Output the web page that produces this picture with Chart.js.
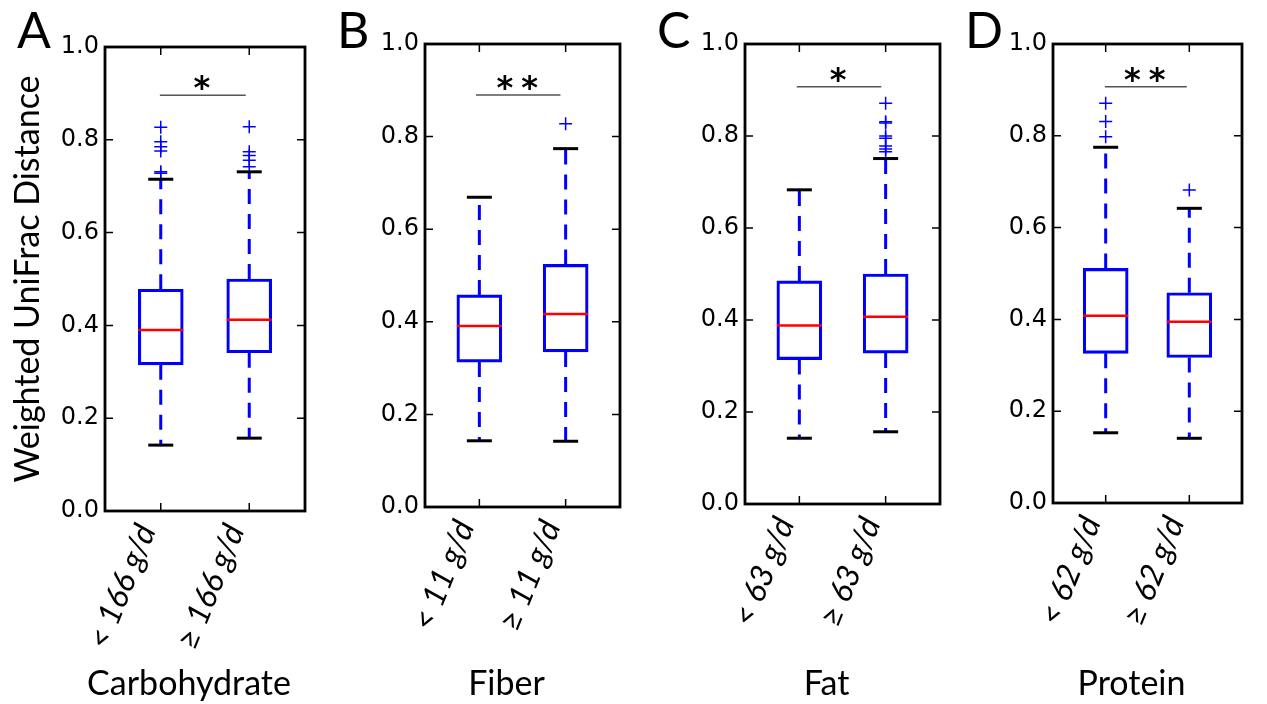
<!DOCTYPE html>
<html>
<head>
<meta charset="utf-8">
<script src="https://cdn.jsdelivr.net/npm/chart.js@4.4.1/dist/chart.umd.min.js"></script>
<style>
  html, body { margin: 0; padding: 0; background: #fff; }
  #wrap { position: relative; width: 1267px; height: 704px; overflow: hidden; background: #fff; }
  canvas { position: absolute; top: 0; }
</style>
</head>
<body>
<div id="wrap">
  <canvas id="p0" width="330" height="704" style="left:0px"></canvas>
  <canvas id="p1" width="310" height="704" style="left:335px"></canvas>
  <canvas id="p2" width="310" height="704" style="left:655px"></canvas>
  <canvas id="p3" width="304" height="704" style="left:963px"></canvas>
</div>
<script>
// the data
const panelLetters = ["A", "B", "C", "D"];
const nutrients = ["Carbohydrate", "Fiber", "Fat", "Protein"];
const groupLabels = [
  ["< 166 g/d", "\u2265 166 g/d"],
  ["< 11 g/d", "\u2265 11 g/d"],
  ["< 63 g/d", "\u2265 63 g/d"],
  ["< 62 g/d", "\u2265 62 g/d"]
];
const positions = [1, 2];
const whiskerLow = [[0.142, 0.157], [0.143, 0.142], [0.143, 0.157], [0.153, 0.141]];
const q1 = [[0.315, 0.341], [0.313, 0.335], [0.314, 0.328], [0.326, 0.317]];
const medians = [[0.390, 0.412], [0.391, 0.417], [0.388, 0.407], [0.408, 0.395]];
const q3 = [[0.478, 0.500], [0.458, 0.524], [0.485, 0.500], [0.511, 0.458]];
const whiskerHigh = [[0.715, 0.731], [0.669, 0.774], [0.683, 0.751], [0.775, 0.642]];
const outliers = [
  [[0.827, 0.796, 0.785, 0.776, 0.731, 0.728], [0.828, 0.774, 0.766, 0.756, 0.742]],
  [[], [0.828]],
  [[], [0.871, 0.831, 0.828, 0.800, 0.795, 0.778, 0.772, 0.766]],
  [[0.871, 0.831, 0.798], [0.682]]
];
const stars = ["*", "**", "*", "**"];
const sigLineY = [0.896, 0.890, 0.907, 0.907];
const sigStart = [0.99, 0.96, 0.97, 0.99];
const sigEnd = [1.96, 1.94, 1.95, 1.97];
const starY = [0.929, 0.922, 0.940, 0.940];
const yTicks = [0, 0.2, 0.4, 0.6, 0.8, 1.0];

// where each plot frame sits on the page (px)
const frames = [
  { canvasLeft: 0, width: 330, left: 105, right: 306, top: 47, bottom: 511 },
  { canvasLeft: 335, width: 310, left: 425, right: 626, top: 44, bottom: 507 },
  { canvasLeft: 655, width: 310, left: 745, right: 946, top: 44, bottom: 504 },
  { canvasLeft: 963, width: 304, left: 1053, right: 1255, top: 44, bottom: 503 }
];

const BLUE = "#0000ff";

// frame, inward ticks, stars, panel letter and nutrient name
const decor = {
  id: "decor",
  afterDraw(chart, args, opts) {
    const p = opts.panel;
    const { ctx, chartArea: a, scales: { x, y } } = chart;
    ctx.save();
    ctx.strokeStyle = "#000";
    ctx.lineWidth = 1.5;
    ctx.beginPath();
    yTicks.forEach(v => {
      const py = y.getPixelForValue(v);
      ctx.moveTo(a.left, py); ctx.lineTo(a.left + 8, py);
      ctx.moveTo(a.right, py); ctx.lineTo(a.right - 8, py);
    });
    positions.forEach(v => {
      const px = x.getPixelForValue(v);
      ctx.moveTo(px, a.top); ctx.lineTo(px, a.top + 8);
      ctx.moveTo(px, a.bottom); ctx.lineTo(px, a.bottom - 8);
    });
    ctx.stroke();
    ctx.lineWidth = 2.8;
    ctx.strokeRect(a.left, a.top, a.right - a.left, a.bottom - a.top);

    // significance stars
    ctx.fillStyle = "#000";
    ctx.font = 'bold 32px "DejaVu Sans"';
    ctx.textAlign = "center";
    ctx.textBaseline = "alphabetic";
    ctx.letterSpacing = "8px";
    const sx = (x.getPixelForValue(sigStart[p]) + x.getPixelForValue(sigEnd[p])) / 2 + 3;
    ctx.fillText(stars[p], sx, y.getPixelForValue(starY[p]) + 18);
    ctx.letterSpacing = "0px";

    // panel letter
    ctx.textAlign = "left";
    ctx.font = '50px Lato';
    ctx.fillText(panelLetters[p], a.left - 88, 48);

    // nutrient name under the labels
    ctx.textAlign = "center";
    ctx.font = '34px Lato';
    ctx.fillText(nutrients[p], (a.left + a.right) / 2 - 16, 695);
    ctx.restore();
  }
};

function makePanel(p) {
  const f = frames[p];
  const datasets = [];

  datasets.push({
    type: "bar",
    data: positions.map((x, i) => ({ x: x, y: [q1[p][i], q3[p][i]] })),
    backgroundColor: "rgba(255,255,255,0)",
    borderColor: BLUE,
    borderWidth: 2.5,
    borderSkipped: false,
    barThickness: 45,
    order: 1
  });
  datasets.push({
    type: "scatter",
    data: positions.map((x, i) => ({ x: x, y: medians[p][i] })),
    pointStyle: "line",
    pointRadius: 22.5,
    pointBorderColor: "#ff0000",
    borderColor: "#ff0000",
    pointBorderWidth: 2.5,
    order: 0
  });
  datasets.push({
    type: "scatter",
    data: positions.map((x, i) => ({ x: x, y: whiskerLow[p][i] }))
      .concat(positions.map((x, i) => ({ x: x, y: whiskerHigh[p][i] }))),
    pointStyle: "line",
    pointRadius: 12.5,
    pointBorderColor: "#000",
    borderColor: "#000",
    pointBorderWidth: 3,
    order: 2
  });
  const outPts = [];
  positions.forEach((x, i) => outliers[p][i].forEach(v => outPts.push({ x: x, y: v })));
  datasets.push({
    type: "scatter",
    data: outPts,
    pointStyle: "cross",
    pointRadius: 6.5,
    pointBorderColor: BLUE,
    borderColor: BLUE,
    pointBorderWidth: 1.5,
    order: 3
  });
  positions.forEach((x, i) => {
    [[q3[p][i], whiskerHigh[p][i]], [q1[p][i], whiskerLow[p][i]]].forEach(seg => {
      datasets.push({
        type: "line",
        data: [{ x: x, y: seg[0] }, { x: x, y: seg[1] }],
        borderColor: BLUE,
        borderWidth: 3,
        borderDash: [15, 10],
        pointRadius: 0,
        fill: false,
        order: 4
      });
    });
  });
  datasets.push({
    type: "line",
    data: [{ x: sigStart[p], y: sigLineY[p] }, { x: sigEnd[p], y: sigLineY[p] }],
    borderColor: "#555",
    borderWidth: 1.5,
    pointRadius: 0,
    fill: false,
    order: 5
  });

  return new Chart(document.getElementById("p" + p), {
    type: "bar",
    data: { datasets: datasets },
    plugins: [decor],
    options: {
      responsive: false,
      animation: false,
      events: [],
      layout: { padding: { left: 0, right: f.canvasLeft + f.width - f.right, top: f.top, bottom: 0 } },
      plugins: { legend: { display: false }, tooltip: { enabled: false }, decor: { panel: p } },
      scales: {
        x: {
          type: "linear",
          min: 0.37,
          max: 2.63,
          offset: false,
          grid: { display: false, drawTicks: false },
          border: { display: false },
          afterBuildTicks: s => { s.ticks = positions.map(v => ({ value: v })); },
          afterFit: s => { s.height = 704 - f.bottom; },
          ticks: {
            autoSkip: false,
            minRotation: 68,
            maxRotation: 68,
            padding: 8,
            labelOffset: -14,
            color: "#000",
            font: { family: "Lato", style: "italic", size: 32 },
            callback: (v, i) => groupLabels[p][i]
          }
        },
        y: {
          min: 0,
          max: 1,
          grid: { display: false, drawTicks: false },
          border: { display: false },
          afterBuildTicks: s => { s.ticks = yTicks.map(v => ({ value: v })); },
          afterFit: s => { s.width = f.left - f.canvasLeft; },
          ticks: {
            padding: 6,
            color: "#000",
            font: { family: "DejaVu Sans", size: 24 },
            callback: v => v.toFixed(1)
          },
          title: {
            display: p === 0,
            text: "Weighted UniFrac Distance",
            color: "#000",
            font: { family: "Lato", size: 34 },
            padding: { top: 8, bottom: 0 }
          }
        }
      }
    }
  });
}

for (let p = 0; p < 4; p++) makePanel(p);
</script>
</body>
</html>
